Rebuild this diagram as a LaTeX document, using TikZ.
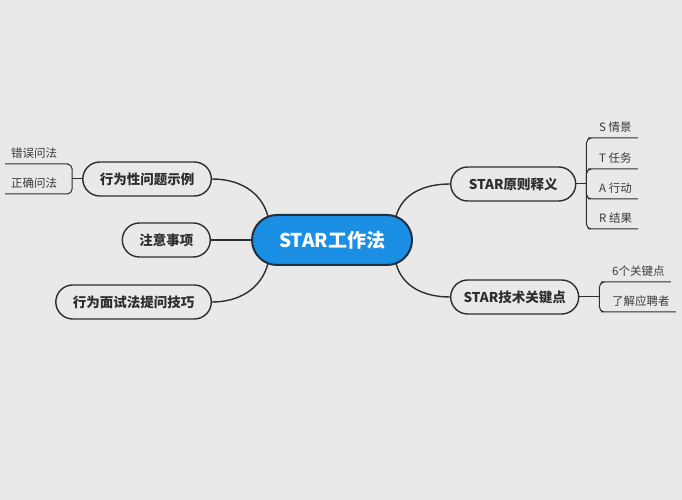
\documentclass[tikz,border=0pt]{standalone}
\usepackage{fontspec}
\setmainfont{Noto Sans CJK SC}
\usepackage{xcolor}
\usetikzlibrary{positioning, calc}
\definecolor{bgcol}{HTML}{E9E9E9}
\definecolor{linecol}{HTML}{2E2E2E}
\definecolor{starblue}{HTML}{1A8FE3}
\definecolor{stardark}{HTML}{1F2F40}
\definecolor{leafcol}{HTML}{3A3A3A}
\tikzset{
    x=1pt, y=1pt, % one unit is one pixel of the picture
    root/.style={draw=stardark, line width=2pt, fill=starblue, rounded corners=25pt, minimum width=160pt, minimum height=50pt, text=white, font=\fontsize{19}{20}\selectfont\bfseries}, % the central topic
    topic/.style={draw=linecol, line width=1.4pt, fill=bgcol, rounded corners=17pt, minimum height=34pt, inner xsep=17pt, text=linecol, font=\fontsize{13.5}{14}\selectfont\bfseries}, % the main branches
    latin/.style={inner xsep=12.5pt}, % topics that start with wide latin letters
    leaf/.style={inner xsep=6pt, inner ysep=5pt, text=leafcol, font=\fontsize{11.5}{12}\selectfont}, % underlined sub topics
    branch/.style={draw=linecol, line width=1.4pt}, % curves from the root
    twig/.style={draw=linecol, line width=1pt, rounded corners=5pt}, % brackets to the leaves
}

\begin{document}
\begin{tikzpicture}
            \fill[bgcol] (0,0) rectangle (682,500);
            \useasboundingbox (0,0) rectangle (682,500);

            \node[root] (star) at (332,260) {STAR工作法};

            \node[topic, left=40pt of star] (note) {注意事项};
            \node[topic, anchor=east] (example) at (212,321) {行为性问题示例};
            \node[topic, anchor=east] (tips) at (212,198) {行为面试法提问技巧};
            \node[topic, latin, minimum width=125pt, anchor=west] (meaning) at (450,316) {STAR原则释义};
            \node[topic, latin, minimum width=128pt, anchor=west] (keys) at (450,203) {STAR技术关键点};

            \draw[branch] (note) -- (star);
            \draw[branch] ($(star.center)+(-64,23.5)$) to[out=105,in=0] (example.east);
            \draw[branch] ($(star.center)+(-64,-23.5)$) to[out=-105,in=0] (tips.east);
            \draw[branch] ($(star.center)+(64,23.5)$) to[out=75,in=180] (meaning.west);
            \draw[branch] ($(star.center)+(64,-23.5)$) to[out=-75,in=180] (keys.west);

            % leaves of the examples
            \coordinate[left=10pt of example.west] (exfork);
            \node[leaf, anchor=south west] (wrong) at (5,336) {错误问法};
            \node[leaf, anchor=south west] (correct) at (5,306) {正确问法};
            \draw[twig] (example.west) -- (exfork);
            \draw[twig] (exfork) |- (wrong.south east) -- (wrong.south west);
            \draw[twig] (exfork) |- (correct.south east) -- (correct.south west);

            % leaves of the meaning
            \coordinate[right=10pt of meaning.east] (mfork);
            \node[leaf, anchor=south west] (sit) at (593,362) {S 情景};
            \node[leaf, anchor=south west] (task) at (593,331) {T 任务};
            \node[leaf, anchor=south west] (act) at (593,301) {A 行动};
            \node[leaf, anchor=south west] (res) at (593,271) {R 结果};
            \draw[twig] (meaning.east) -- (mfork);
            \draw[twig] (mfork) |- (sit.south west) -- (sit.south east);
            \draw[twig] (mfork) |- (task.south west) -- (task.south east);
            \draw[twig] (mfork) |- (act.south west) -- (act.south east);
            \draw[twig] (mfork) |- (res.south west) -- (res.south east);

            % leaves of the key points
            \coordinate[right=20pt of keys.east] (kfork);
            \node[leaf, anchor=south west] (six) at (606,218) {6个关键点};
            \node[leaf, anchor=south west] (know) at (606,188) {了解应聘者};
            \draw[twig] (keys.east) -- (kfork);
            \draw[twig] (kfork) |- (six.south west) -- (six.south east);
            \draw[twig] (kfork) |- (know.south west) -- (know.south east);

        \end{tikzpicture}
\end{document}
